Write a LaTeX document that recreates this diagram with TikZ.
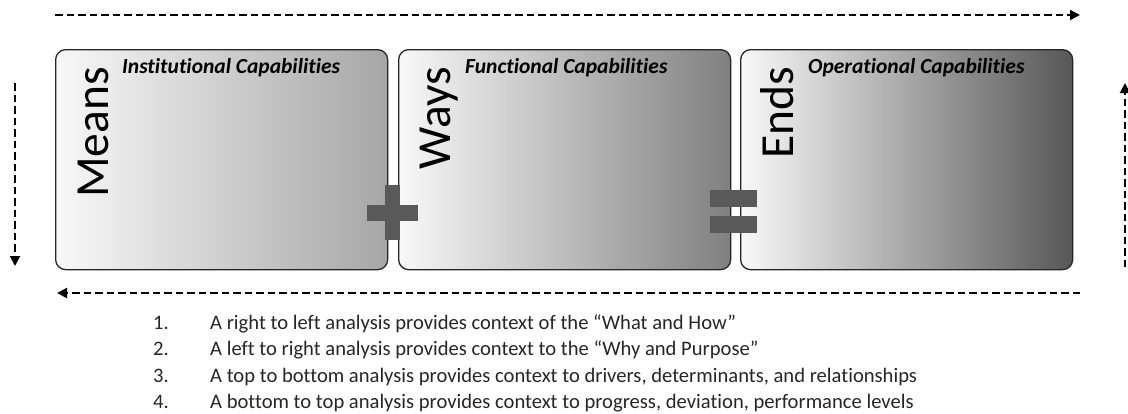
\documentclass[tikz,border=0pt]{standalone}
\usepackage{fontspec}
\setmainfont{Carlito}[Ligatures={NoCommon,NoContextual},RawFeature={-calt}]
\usetikzlibrary{arrows.meta}
\definecolor{lightend}{HTML}{F8F8F8}
\definecolor{end1}{HTML}{A6A6A6}
\definecolor{end2}{HTML}{808080}
\definecolor{end3}{HTML}{575757}
\definecolor{opcol}{HTML}{595959}
\definecolor{listcol}{HTML}{262626}
\begin{document}
\begin{tikzpicture}[x=1pt,y=-1pt,
  capbox/.style={draw=black!85, line width=1.3pt, rounded corners=10pt, left color=lightend,
    minimum width=332pt, minimum height=220pt, anchor=north west, inner sep=0pt},
  bigword/.style={font=\fontsize{47.5}{50}\selectfont, rotate=90, anchor=base east, inner sep=0pt},
  captitle/.style={font=\fontsize{21.5}{24}\selectfont\bfseries\itshape, anchor=base west, inner sep=0pt},
  listtext/.style={font=\fontsize{20.6}{22}\selectfont, text=listcol, anchor=base west, inner sep=0pt},
  flow/.style={line width=2pt, dash pattern=on 7.5pt off 4pt, -{Triangle[length=10pt,width=10pt]}},
  opbar/.style={fill=opcol}]
\useasboundingbox (0,0) rectangle (1128,413);

% boxes
\node[capbox, right color=end1] (b1) at (55,49) {};
\node[capbox, right color=end2] (b2) at (398,49) {};
\node[capbox, right color=end3] (b3) at (740,49) {};

% operators
\fill[opbar] (385,185) rectangle (400,240);
\fill[opbar] (367,205) rectangle (418,221);
\fill[opbar] (710,190) rectangle (757,207);
\fill[opbar] (710,216) rectangle (757,233);

% vertical words
\node[bigword] (w1) at (108,67) {Means};
\node[bigword] (w2) at (450,67) {Ways};
\node[bigword] (w3) at (793,67) {Ends};

% titles
\node[captitle] (t1) at (122,73) {Institutional Capabilities};
\node[captitle] (t2) at (465,73) {Functional Capabilities};
\node[captitle] (t3) at (808,73) {Operational Capabilities};

% arrows
\coordinate (ts) at (55,15);  \coordinate (te) at (1080,15);
\coordinate (ls) at (15,83);  \coordinate (le) at (15,266);
\coordinate (bs) at (1080,293); \coordinate (be) at (57,293);
\coordinate (rs) at (1125,267); \coordinate (re) at (1125,83);
\draw[flow] (ts) -- (te);
\draw[flow] (ls) -- (le);
\draw[flow] (bs) -- (be);
\draw[flow] (rs) -- (re);

% list
\node[listtext] (n1) at (153,329) {1.};
\node[listtext] (l1) at (210,329) {A right to left analysis provides context of the “What and How”};
\node[listtext] (n2) at (153,355.5) {2.};
\node[listtext] (l2) at (210,355.5) {A left to right analysis provides context to the “Why and Purpose”};
\node[listtext] (n3) at (153,382) {3.};
\node[listtext] (l3) at (210,382) {A top to bottom analysis provides context to drivers, determinants, and relationships};
\node[listtext] (n4) at (153,408) {4.};
\node[listtext] (l4) at (210,408) {A bottom to top analysis provides context to progress, deviation, performance levels};
\end{tikzpicture}
\end{document}
